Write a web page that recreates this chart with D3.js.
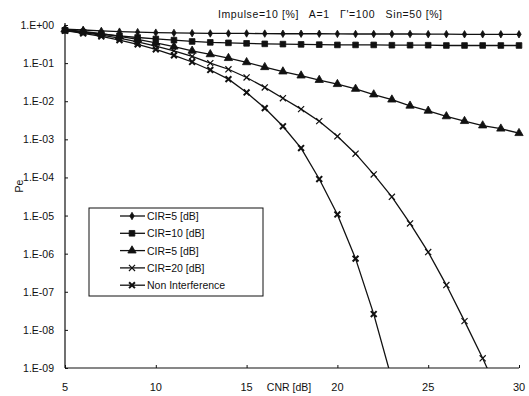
<!DOCTYPE html>
<html>
<head>
<meta charset="utf-8">
<script src="https://cdn.jsdelivr.net/npm/d3@7"></script>
<style>
  body { margin: 0; background: #fff; }
  text { font-family: "Liberation Sans", Arial, sans-serif; fill: #111; white-space: pre; }
</style>
</head>
<body>
<div id="chart"></div>
<script>
"use strict";

// CNR [dB] axis values
const cnr = d3.range(5, 31);

// Pe, one array per curve
const cir5 = [0.78, 0.74, 0.70, 0.67, 0.65, 0.63, 0.62, 0.61, 0.60, 0.60, 0.60, 0.595, 0.59, 0.59, 0.59,
              0.585, 0.58, 0.58, 0.58, 0.58, 0.575, 0.575, 0.57, 0.57, 0.57, 0.57];
const cir10 = [0.72, 0.65, 0.58, 0.52, 0.47, 0.43, 0.40, 0.37, 0.35, 0.34, 0.33, 0.32, 0.315, 0.31, 0.305,
               0.30, 0.30, 0.30, 0.295, 0.295, 0.295, 0.29, 0.29, 0.29, 0.29, 0.29];
const cir15 = [0.76, 0.68, 0.59, 0.50, 0.42, 0.34, 0.27, 0.21, 0.17, 0.135, 0.105, 0.078, 0.060, 0.047, 0.036,
               0.028, 0.021, 0.015, 0.011, 7.6e-3, 5.6e-3, 4.0e-3, 3.0e-3, 2.3e-3, 1.9e-3, 1.45e-3];
const cir20 = [0.72, 0.63, 0.54, 0.45, 0.36, 0.28, 0.21, 0.15, 0.10, 0.069, 0.042, 0.023, 0.012, 6.2e-3, 3.0e-3,
               1.2e-3, 4.2e-4, 1.2e-4, 3.1e-5, 6.2e-6, 1.1e-6, 1.5e-7, 1.7e-8, 1.8e-9, 1.6e-10];
const nonInt = [0.71, 0.60, 0.50, 0.40, 0.31, 0.23, 0.16, 0.107, 0.066, 0.038, 0.017, 6.6e-3, 2.2e-3, 5.9e-4, 9.1e-5,
                1.07e-5, 7.4e-7, 2.6e-8, 5e-10];

const legendLabels = ["CIR=5 [dB]", "CIR=10 [dB]", "CIR=5 [dB]", "CIR=20 [dB]", "Non Interference"];
const yTickLabels = ["1.E+00", "1.E-01", "1.E-02", "1.E-03", "1.E-04", "1.E-05", "1.E-06", "1.E-07", "1.E-08", "1.E-09"];
const xTicks = [5, 10, 15, 20, 25, 30];
const title = "Impulse=10 [%]   A=1   \u0393'=100   Sin=50 [%]";

const width = 529, height = 396;
const margin = { top: 25, right: 10, bottom: 28, left: 65 };

const svg = d3.select("#chart").append("svg")
    .attr("width", width)
    .attr("height", height);

const x = d3.scaleLinear().domain([5, 30]).range([margin.left, 519]);
const y = d3.scaleLog().domain([1e-9, 1]).range([368, margin.top]);

svg.append("defs").append("clipPath").attr("id", "plot")
    .append("rect")
    .attr("x", x(5) - 6).attr("y", y(1) - 8)
    .attr("width", x(30) - x(5) + 12).attr("height", y(1e-9) - y(1) + 8);

// axes: ticks pointing inwards, labels drawn separately
const yAxis = d3.axisRight(y).tickValues(yTickLabels.map((d, i) => Math.pow(10, -i)))
    .tickSize(3).tickFormat("");
svg.append("g").attr("transform", `translate(${x(5)},0)`).call(yAxis)
    .call(g => g.select(".domain").attr("stroke", "#111").attr("stroke-width", 1.2).attr("d", `M0,${y(1) - 2}V${y(1e-9)}`))
    .call(g => g.selectAll(".tick line").attr("stroke", "#111"));

const xAxis = d3.axisTop(x).tickValues(xTicks).tickSize(3).tickFormat("");
svg.append("g").attr("transform", `translate(0,${y(1e-9)})`).call(xAxis)
    .call(g => g.select(".domain").attr("stroke", "#111").attr("stroke-width", 1.2).attr("d", `M${x(5)},0H${x(30)}`))
    .call(g => g.selectAll(".tick line").attr("stroke", "#111"));

svg.append("g").selectAll("text").data(yTickLabels).join("text")
    .attr("x", 54)
    .attr("y", (d, i) => y(Math.pow(10, -i)) + 4)
    .attr("text-anchor", "end")
    .attr("font-size", 10.5)
    .text(d => d);

svg.append("g").selectAll("text").data(xTicks).join("text")
    .attr("x", d => x(d))
    .attr("y", 391)
    .attr("text-anchor", "middle")
    .attr("font-size", 11)
    .text(d => d);

svg.append("text").attr("x", 289).attr("y", 391).attr("text-anchor", "middle")
    .attr("font-size", 10.5).text("CNR [dB]");

svg.append("text").attr("transform", "translate(23,186) rotate(-90)")
    .attr("text-anchor", "middle").attr("font-size", 10.5).text("Pe");

svg.append("text").attr("x", 218).attr("y", 18).attr("font-size", 10.5)
    .attr("textLength", 224).attr("lengthAdjust", "spacing").text(title);

// marker drawing per series
const markers = [
    { type: d3.symbolDiamond, size: 16, fill: true },
    { type: d3.symbolSquare, size: 32, fill: true },
    { type: d3.symbolTriangle, size: 30, fill: true },
    { type: d3.symbolX, size: 26, fill: false, sw: 1.2 },
    { type: d3.symbolX, size: 24, fill: false, sw: 2 }
];

const series = [cir5, cir10, cir15, cir20, nonInt].map((vals, i) => ({
    name: legendLabels[i],
    marker: markers[i],
    points: vals.map((v, j) => ({ cnr: cnr[j], pe: v }))
}));

const line = d3.line().x(d => x(d.cnr)).y(d => y(d.pe));
const plot = svg.append("g").attr("clip-path", "url(#plot)");

function drawMarker(sel, m) {
    sel.attr("d", d3.symbol().type(m.type).size(m.size))
        .attr("fill", m.fill ? "#111" : "none")
        .attr("stroke", "#111")
        .attr("stroke-width", m.sw || 0.8);
}

series.forEach(s => {
    plot.append("path").datum(s.points)
        .attr("d", line)
        .attr("fill", "none")
        .attr("stroke", "#111")
        .attr("stroke-width", 1.3);
    plot.append("g").selectAll("path").data(s.points).join("path")
        .attr("transform", d => `translate(${x(d.cnr)},${y(d.pe)})`)
        .call(drawMarker, s.marker);
});

// legend
const legend = svg.append("g");
legend.append("rect")
    .attr("x", 89).attr("y", 208).attr("width", 174).attr("height", 88)
    .attr("fill", "#fff").attr("stroke", "#111").attr("stroke-width", 1);

const rows = legend.selectAll("g.row").data(series).join("g")
    .attr("class", "row")
    .attr("transform", (d, i) => `translate(0,${216 + i * 17.3})`);
rows.append("line").attr("x1", 120).attr("x2", 145).attr("y1", 0).attr("y2", 0)
    .attr("stroke", "#111").attr("stroke-width", 1.3);
rows.append("path").attr("transform", "translate(132,0)")
    .each(function (d) { d3.select(this).call(drawMarker, d.marker); });
rows.append("text").attr("x", 147).attr("y", 4).attr("font-size", 10.5).text(d => d.name);
</script>
</body>
</html>
